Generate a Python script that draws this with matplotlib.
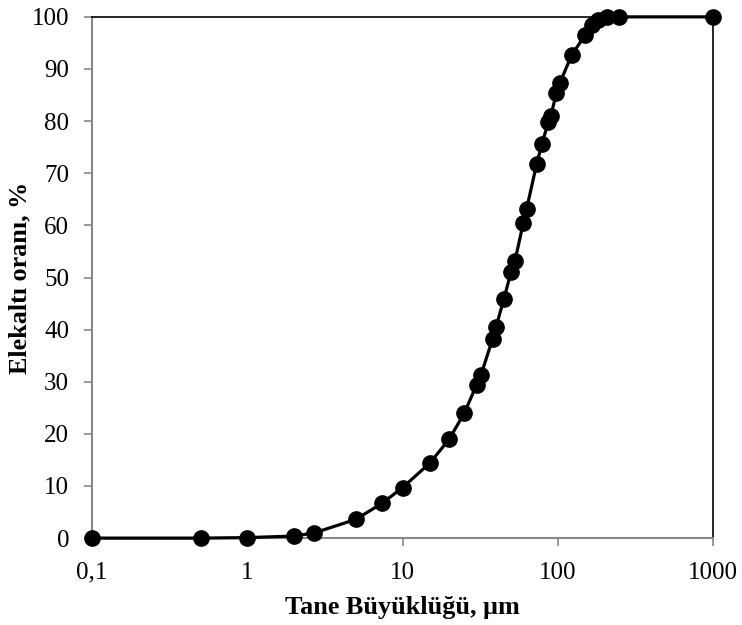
import matplotlib.pyplot as plt
from matplotlib.ticker import FixedLocator, NullLocator

plt.rcParams['font.family'] = ['Liberation Serif', 'DejaVu Serif']

# tane boyutu (um) ve elekalti orani (%)
boyut = [0.1, 0.5, 1, 2, 2.7, 5, 7.4, 10, 15, 20, 25, 30, 32, 38, 40, 45, 50, 53,
         60, 63, 73, 79, 87, 90, 98, 103, 123, 150, 165, 182, 206, 247, 1000]
oran = [0, 0, 0.1, 0.4, 1.0, 3.6, 6.7, 9.7, 14.4, 19.0, 24.0, 29.4, 31.3, 38.2, 40.5,
        45.9, 51.1, 53.2, 60.5, 63.2, 71.7, 75.6, 79.9, 80.9, 85.4, 87.3, 92.7, 96.5,
        98.5, 99.4, 100, 100, 100]
xticks = [0.1, 1, 10, 100, 1000]
xlabels = ['0,1', '1', '10', '100', '1000']
yticks = list(range(0, 101, 10))

fig = plt.figure(figsize=(7.42, 6.25), dpi=100)
ax = fig.add_axes([0.124, 0.139, 0.837, 0.834])

ax.plot(boyut, oran, color='black', lw=2.3, marker='o', ms=11, clip_on=False, zorder=5)

ax.set_xscale('log')
ax.set_xlim(0.1, 1000)
ax.set_ylim(0, 100)
ax.xaxis.set_major_locator(FixedLocator(xticks))
ax.xaxis.set_minor_locator(NullLocator())
ax.set_xticklabels(xlabels)
ax.set_yticks(yticks)

for s in ['top', 'right']:
    ax.spines[s].set_color('black')
    ax.spines[s].set_linewidth(1.2)
for s in ['left', 'bottom']:
    ax.spines[s].set_color('#888888')
    ax.spines[s].set_linewidth(1.5)
ax.tick_params(axis='both', direction='out', length=6, width=1.2, color='#888888',
               labelsize=18)
ax.tick_params(axis='y', pad=10.5)
ax.tick_params(axis='x', pad=11)

ax.set_xlabel('Tane Büyüklüğü, µm', fontsize=18.8, fontweight='bold', labelpad=9)
ax.set_ylabel('Elekaltı oranı, %', fontsize=18.8, fontweight='bold', labelpad=0)

fig.savefig('out.png', dpi=100)
